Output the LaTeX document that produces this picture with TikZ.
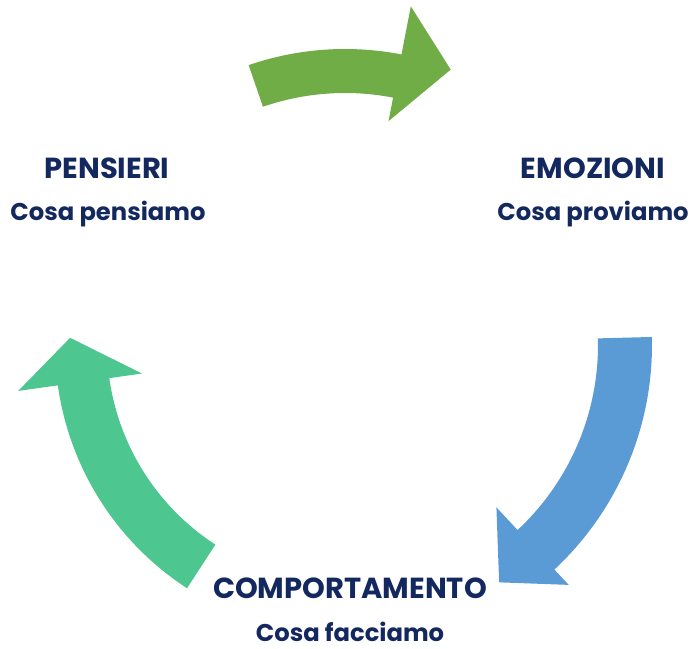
\documentclass[tikz,border=0pt]{standalone}
\usepackage{fontspec}
\setmainfont{Poppins}
\definecolor{navy}{HTML}{13285E}
\definecolor{leaf}{HTML}{70AD47}
\definecolor{sky}{HTML}{5B9BD5}
\definecolor{mint}{HTML}{4DC78F}
\tikzset{
  title/.style={text=navy, inner sep=0pt, font=\bfseries\fontsize{16.5}{19}\selectfont},
  sub/.style={text=navy, inner sep=0pt, font=\bfseries\fontsize{13.8}{16}\selectfont},
}
% curved arrow: #1 colour, #2 start angle, #3 end angle, #4 inner r, #5 outer r,
% #6 head inner r, #7 head outer r, #8 tip angle, #9 tip r
\newcommand{\cyclearrow}[9]{%
  \fill[#1, shift={(345,345)}] (#2:#4) arc[start angle=#2, end angle=#3, radius=#4]
    -- (#3:#6) -- (#8:#9) -- (#3:#7) -- (#3:#5)
    arc[start angle=#3, end angle=#2, radius=#5] -- cycle;}
\begin{document}
\begin{tikzpicture}[x=0.02cm, y=-0.02cm]
  \useasboundingbox (0,0) rectangle (693,649);

  \cyclearrow{leaf}{251}{281}{252}{296}{228}{345}{291}{295}
  \cyclearrow{sky}{-1.5}{47}{253}{307}{222}{328}{57}{283}
  \cyclearrow{mint}{123}{172}{238}{290}{205}{330}{181.5}{275}

  \node[title] (pensieri) at (107,168) {PENSIERI};
  \node[sub]   (pensieri sub) at (108,214) {Cosa pensiamo};
  \node[title] (emozioni) at (593,168) {EMOZIONI};
  \node[sub]   (emozioni sub) at (593,214) {Cosa proviamo};
  \node[title] (comportamento) at (350,588) {COMPORTAMENTO};
  \node[sub]   (comportamento sub) at (350,632) {Cosa facciamo};
\end{tikzpicture}
\end{document}
